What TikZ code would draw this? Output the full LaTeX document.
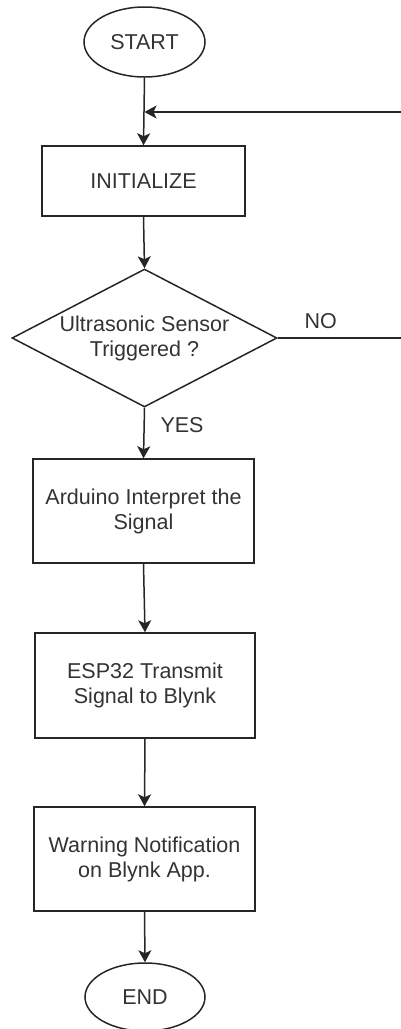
\documentclass[tikz,border=0pt]{standalone}
\usepackage{fontspec}
\setmainfont{Liberation Sans}
\usetikzlibrary{shapes.geometric,arrows.meta}
\begin{document}
\begin{tikzpicture}[x=1pt,y=-1pt,
  every node/.style={font=\fontsize{21.5}{25}\selectfont, text=black!80},
  box/.style={draw=black!85, line width=1.5pt, rectangle, align=center, inner sep=0pt},
  term/.style={draw=black!85, line width=1.5pt, ellipse, inner sep=0pt},
  conn/.style={draw=black!85, line width=1.5pt, -{Stealth[length=12pt,width=13pt,inset=3pt]}},
  plain/.style={draw=black!85, line width=1.5pt}]
\useasboundingbox (0,0) rectangle (400,1029);
\node[term, minimum width=121, minimum height=70] (start) at (144.5,42) {START};
\node[box, minimum width=203, minimum height=70] (init) at (143.5,181) {INITIALIZE};
\node[draw=black!85, line width=1.5pt, diamond, inner sep=0pt, minimum width=265, minimum height=138,
  label={[align=center, font=\fontsize{21.5}{25}\selectfont, text=black!80]center:Ultrasonic Sensor\\Triggered ?}] (dec) at (144.5,338) {};
\node[box, minimum width=221, minimum height=104] (ard) at (143.5,511) {Arduino Interpret the\\Signal};
\node[box, minimum width=220, minimum height=105] (esp) at (145,685.5) {ESP32 Transmit\\Signal to Blynk};
\node[box, minimum width=221, minimum height=104] (warn) at (144.5,859) {Warning Notification\\on Blynk App.};
\node[term, minimum width=120, minimum height=68] (end) at (145,997) {END};
\coordinate (loopR) at (402,338);
\coordinate (loopT) at (402,112);
\coordinate (join) at (144.5,112);
\draw[conn] (start.south) -- (init.north);
\draw[conn] (init.south) -- (dec.north);
\draw[conn] (dec.south) -- (ard.north);
\draw[conn] (ard.south) -- (esp.north);
\draw[conn] (esp.south) -- (warn.north);
\draw[conn] (warn.south) -- (end.north);
\draw[plain] (dec.east) -- (loopR) -- (loopT);
\draw[conn] (loopT) -- (join);
\node[anchor=west] (yes) at (157,425) {YES};
\node[anchor=west] (no) at (301,321) {NO};
\end{tikzpicture}
\end{document}
